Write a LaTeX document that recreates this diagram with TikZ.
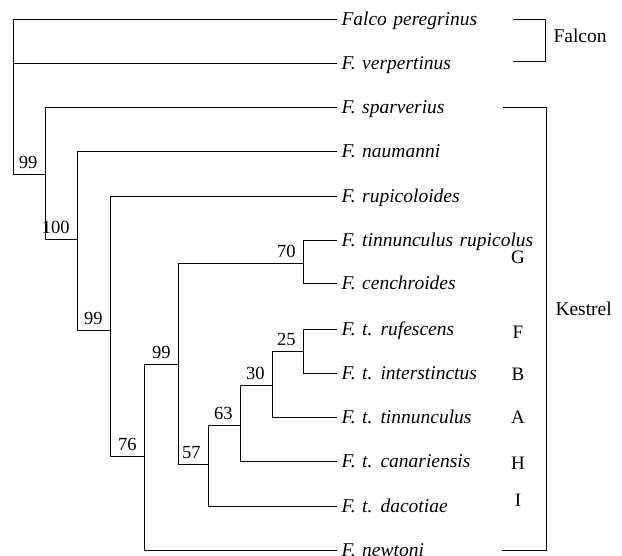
\documentclass[tikz,border=0pt]{standalone}
\usepackage{fontspec}
\setmainfont{Liberation Serif}
\newcommand{\mytaxfont}{\fontsize{19.5}{19.5}\selectfont\itshape\spaceskip=0.33em plus 0.1em minus 0.05em\relax}
\begin{document}
\begin{tikzpicture}[x=1pt,y=-1pt,line width=1pt,
  taxon/.style={anchor=base west,inner sep=0pt,font=\mytaxfont},
  support/.style={anchor=base east,inner sep=0pt,font=\fontsize{18.5}{18.5}\selectfont},
  clade/.style={anchor=base,inner sep=0pt,font=\fontsize{19}{19}\selectfont},
  group/.style={anchor=base west,inner sep=0pt,font=\fontsize{19.5}{19.5}\selectfont},
  branch/.style={draw,line join=miter}]
\useasboundingbox (0,0) rectangle (622,555);
% tips
\coordinate (t1) at (337,19);
\coordinate (t2) at (337,63);
\coordinate (t3) at (337,107);
\coordinate (t4) at (337,151);
\coordinate (t5) at (337,196);
\coordinate (t6) at (337,240);
\coordinate (t7) at (337,283);
\coordinate (t8) at (337,329);
\coordinate (t9) at (337,373);
\coordinate (t10) at (337,417);
\coordinate (t11) at (337,461);
\coordinate (t12) at (337,506);
\coordinate (t13) at (337,550);
% internal nodes
\coordinate (R) at (13,100);
\coordinate (A) at (45,174);
\coordinate (B) at (77,239);
\coordinate (C) at (110,330);
\coordinate (D) at (144,456);
\coordinate (E) at (178,364);
\coordinate (N70) at (303,263);
\coordinate (F57) at (208,464);
\coordinate (G63) at (240,425);
\coordinate (H30) at (272,385);
\coordinate (I25) at (303,351);
% branches
\path[branch] (R) |- (t1);
\path[branch] (R) |- (t2);
\path[branch] (R) |- (A);
\path[branch] (A) |- (t3);
\path[branch] (A) |- (B);
\path[branch] (B) |- (t4);
\path[branch] (B) |- (C);
\path[branch] (C) |- (t5);
\path[branch] (C) |- (D);
\path[branch] (D) |- (E);
\path[branch] (D) |- (t13);
\path[branch] (E) |- (N70);
\path[branch] (E) |- (F57);
\path[branch] (N70) |- (t6);
\path[branch] (N70) |- (t7);
\path[branch] (F57) |- (G63);
\path[branch] (F57) |- (t12);
\path[branch] (G63) |- (H30);
\path[branch] (G63) |- (t11);
\path[branch] (H30) |- (I25);
\path[branch] (H30) |- (t10);
\path[branch] (I25) |- (t8);
\path[branch] (I25) |- (t9);
% support values
\node[support] (sA) at ([shift={(-7,-5.5)}]A) {99};
\node[support] (sB) at ([shift={(-7,-5.5)}]B) {100};
\node[support] (sC) at ([shift={(-7,-5.5)}]C) {99};
\node[support] (sD) at ([shift={(-7,-5.5)}]D) {76};
\node[support] (sE) at ([shift={(-7,-5.5)}]E) {99};
\node[support] (sN70) at ([shift={(-7,-5.5)}]N70) {70};
\node[support] (sF57) at ([shift={(-7,-5.5)}]F57) {57};
\node[support] (sG63) at ([shift={(-7,-5.5)}]G63) {63};
\node[support] (sH30) at ([shift={(-7,-5.5)}]H30) {30};
\node[support] (sI25) at ([shift={(-7,-5.5)}]I25) {25};
% taxa
\node[taxon] (l1) at (341,25) {Falco peregrinus};
\node[taxon] (l2) at (341,69) {F. verpertinus};
\node[taxon] (l3) at (341,113) {F. sparverius};
\node[taxon] (l4) at (341,157) {F. naumanni};
\node[taxon] (l5) at (341,202) {F. rupicoloides};
\node[taxon] (l6) at (341,246) {F. tinnunculus rupicolus};
\node[taxon] (l7) at (341,289) {F. cenchroides};
\node[taxon] (l8) at (341,335) {F. t. rufescens};
\node[taxon] (l9) at (341,379) {F. t. interstinctus};
\node[taxon] (l10) at (341,423) {F. t. tinnunculus};
\node[taxon] (l11) at (341,467) {F. t. canariensis};
\node[taxon] (l12) at (341,512) {F. t. dacotiae};
\node[taxon] (l13) at (341,556) {F. newtoni};
% clade letters
\node[clade] (cG) at (518,263) {G};
\node[clade] (cF) at (518,338) {F};
\node[clade] (cB) at (518,380) {B};
\node[clade] (cA) at (518,423) {A};
\node[clade] (cH) at (518,469) {H};
\node[clade] (cI) at (518,506) {I};
% brackets
\coordinate (fa1) at (513,19);
\coordinate (fa2) at (545,19);
\coordinate (fa3) at (545,61);
\coordinate (fa4) at (513,61);
\path[branch] (fa1) -- (fa2) -- (fa3) -- (fa4);
\node[group] (falcon) at (553,42) {Falcon};
\coordinate (ke1) at (503,107);
\coordinate (ke2) at (546,107);
\coordinate (ke3) at (546,550);
\coordinate (ke4) at (502,550);
\path[branch] (ke1) -- (ke2) -- (ke3) -- (ke4);
\node[group] (kestrel) at (555,315) {Kestrel};
\end{tikzpicture}
\end{document}
